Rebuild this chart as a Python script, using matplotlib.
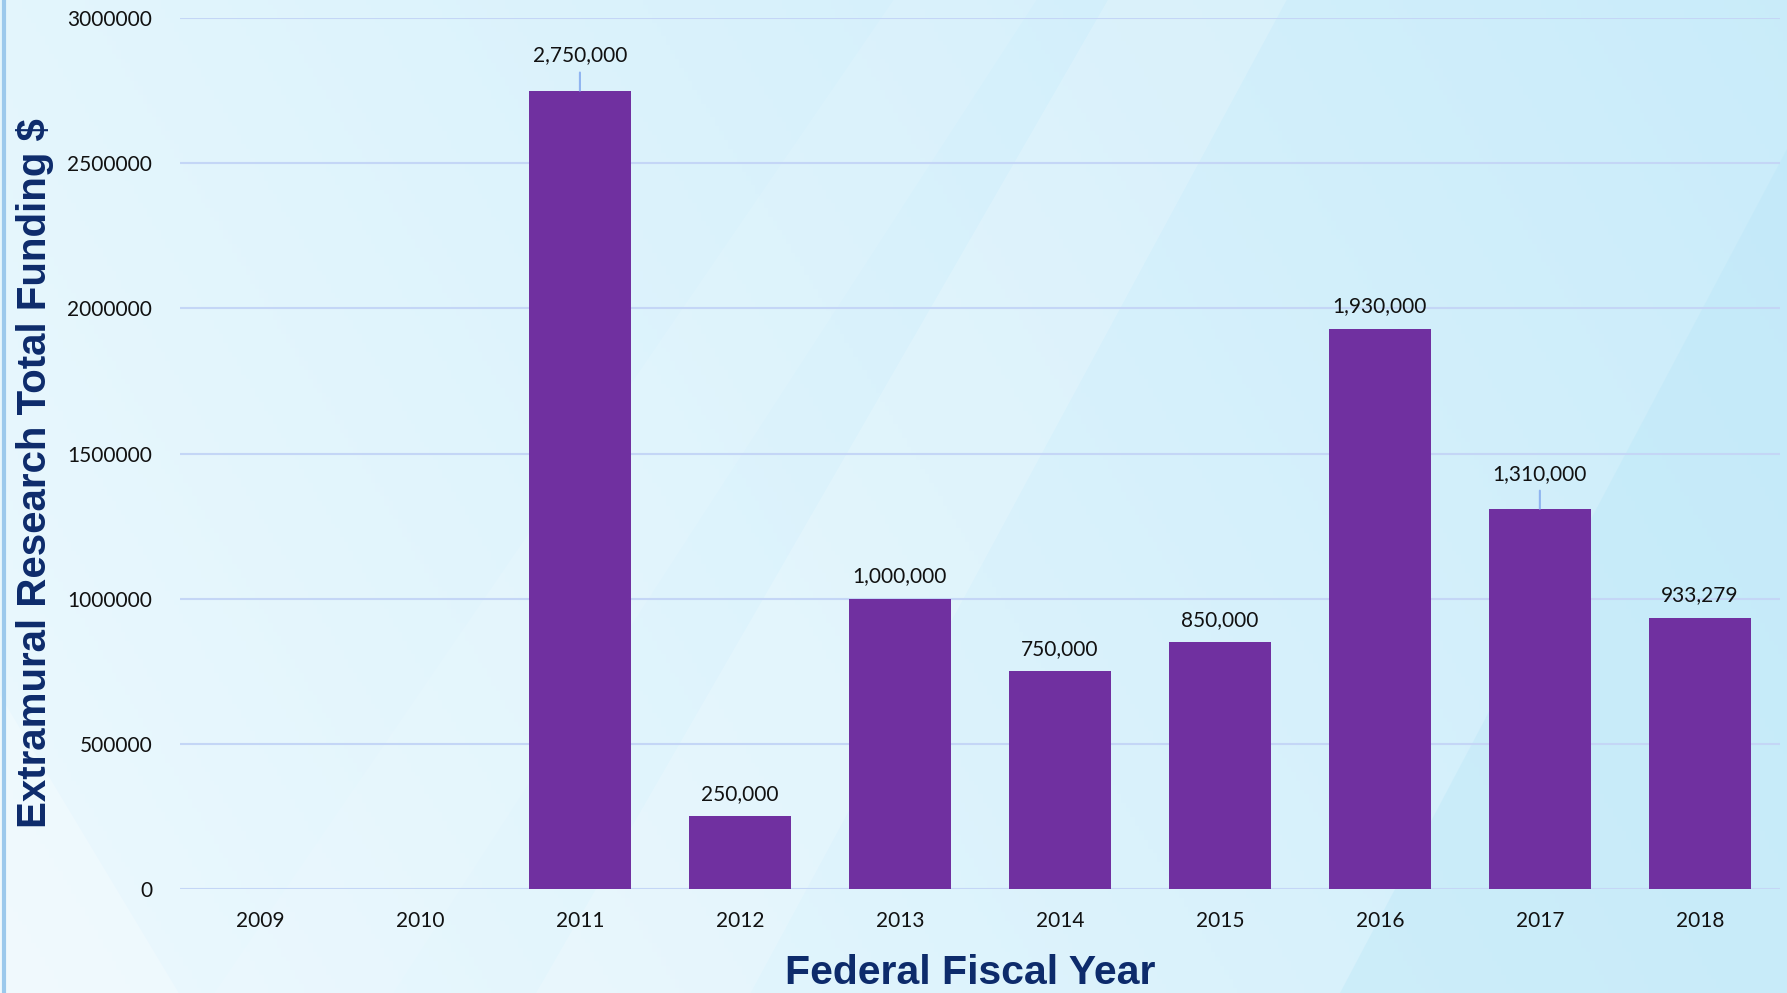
import numpy as np
import matplotlib.pyplot as plt
from matplotlib.patches import Polygon

years = ["2009", "2010", "2011", "2012", "2013", "2014", "2015", "2016", "2017", "2018"]
funding = [0, 0, 2750000, 250000, 1000000, 750000, 850000, 1930000, 1310000, 933279]
# labels that sit higher with a small leader line
raised = ["2011", "2017"]
yticks = [0, 500000, 1000000, 1500000, 2000000, 2500000, 3000000]

fig = plt.figure(figsize=(17.87, 9.93), dpi=100)

# background gradient
bg = fig.add_axes([0, 0, 1, 1], zorder=-1)
bg.set_axis_off()
xx, yy = np.meshgrid(np.linspace(0, 1, 400), np.linspace(0, 1, 220))
left_c = np.array([0.925, 0.975, 0.995])
right_c = np.array([0.79, 0.925, 0.98])
t = np.clip(0.75 * xx + 0.25 * (1 - yy), 0, 1)[..., None]
img = left_c * (1 - t) + right_c * t
bg.imshow(img, extent=[0, 1, 0, 1], aspect="auto", origin="upper")
bg.set_xlim(0, 1)
bg.set_ylim(0, 1)
# soft diagonal streaks
bg.add_patch(Polygon([[0.30, 0.0], [0.42, 0.0], [0.72, 1.0], [0.62, 1.0]], color="white", alpha=0.18, lw=0))
bg.add_patch(Polygon([[0.12, 0.0], [0.22, 0.0], [0.58, 1.0], [0.50, 1.0]], color="white", alpha=0.10, lw=0))
bg.add_patch(Polygon([[0.75, 0.0], [1.0, 0.0], [1.0, 0.85]], color="#b8e6f8", alpha=0.35, lw=0))
bg.add_patch(Polygon([[0.0, 0.0], [0.1, 0.0], [0.0, 0.3]], color="white", alpha=0.25, lw=0))
bg.axvline(0.002, color="#9cc9ec", lw=3)

ax = fig.add_axes([0.1007, 0.1047, 0.8953, 0.8772])
ax.patch.set_alpha(0)
x = np.arange(len(years))
ax.bar(x, funding, width=0.64, color="#7030a0", zorder=3)

for xi, yr, v in zip(x, years, funding):
    if v == 0:
        continue
    if yr in raised:
        ax.annotate(f"{v:,}", xy=(xi, v), xytext=(0, 18), textcoords="offset points",
                    ha="center", va="bottom", fontsize=15, family="Lato", color="#111111",
                    arrowprops=dict(arrowstyle="-", color="#8fb4f0", lw=1.5, shrinkA=3, shrinkB=0))
    else:
        ax.annotate(f"{v:,}", xy=(xi, v), xytext=(0, 9), textcoords="offset points",
                    ha="center", va="bottom", fontsize=15, family="Lato", color="#111111")

ax.set_xlim(-0.5, len(years) - 0.5)
ax.set_ylim(0, 3000000)
ax.set_xticks(x)
ax.set_xticklabels(years)
ax.set_yticks(yticks)
ax.set_yticklabels([str(v) for v in yticks])
ax.tick_params(length=0, labelsize=15, pad=20, colors="#111111")
ax.tick_params(axis="x", pad=16)
for lab in ax.get_xticklabels() + ax.get_yticklabels():
    lab.set_family("Lato")
ax.grid(axis="y", color="#c4d6f6", lw=1.5, zorder=0)
for s in ax.spines.values():
    s.set_visible(False)

ax.set_xlabel("Federal Fiscal Year", fontsize=29.5, fontweight="bold", family="Liberation Sans",
              color="#0d2b6b")
ax.xaxis.set_label_coords(0.494, -0.075)
ax.set_ylabel("Extramural Research Total Funding $", fontsize=29, fontweight="bold",
              family="Liberation Sans", color="#0d2b6b")
ax.yaxis.set_label_coords(-0.079, 0.478)

fig.savefig("out.png", dpi=100)
